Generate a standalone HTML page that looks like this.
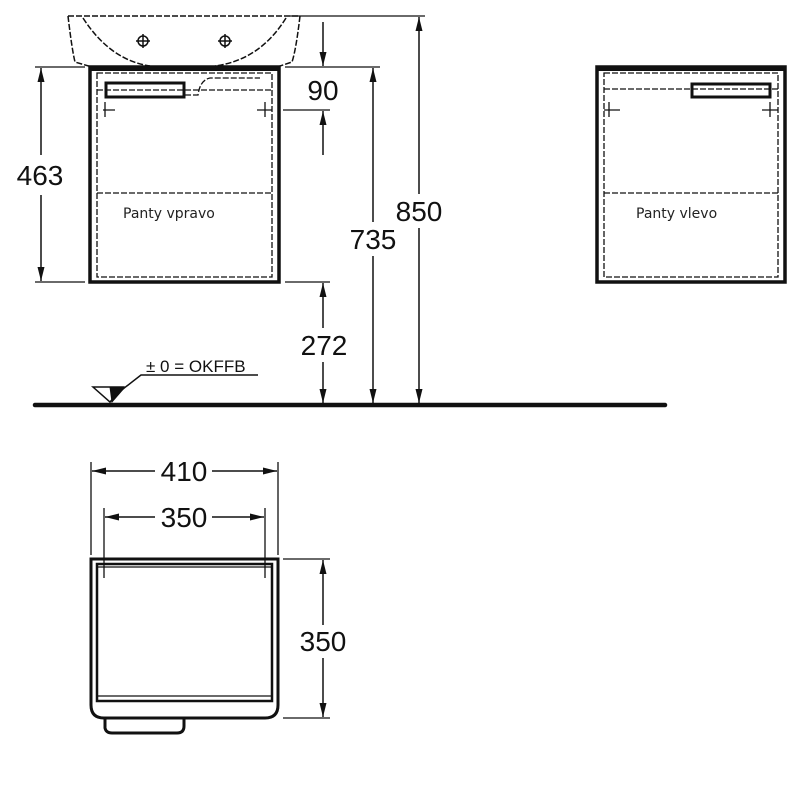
<!DOCTYPE html>
<html><head><meta charset="utf-8"><style>
html,body{margin:0;padding:0;background:#fff;}
svg{display:block;}
text{font-family:"Liberation Sans",sans-serif;fill:#111;}
.d{font-size:28px;}
.c{font-family:"DejaVu Sans","Liberation Sans",sans-serif;font-size:14px;fill:#222;}
</style></head><body>
<svg width="800" height="800" viewBox="0 0 800 800" xmlns="http://www.w3.org/2000/svg">
<defs>
<marker id="a" viewBox="0 0 14 7" refX="14" refY="3.5" markerWidth="14" markerHeight="7" orient="auto-start-reverse" markerUnits="userSpaceOnUse"><path d="M0,0 L14,3.5 L0,7 z" fill="#111"/></marker>
</defs>
<g stroke="#111" fill="none">
<path d="M68,16 L300,16 M68,16 Q72,50 75,62 L92,67 M300,16 Q296,50 292,62 L277,67" stroke-dasharray="6,2" stroke-width="1.5"/>
<path d="M83,18 Q110,60 150,66 M286,18 Q260,60 215,66" stroke-dasharray="6,2" stroke-width="1.5"/>
<circle cx="143" cy="41" r="5" stroke-width="1.5"/><line x1="143" y1="34" x2="143" y2="48" stroke-width="1.5"/><line x1="136" y1="41" x2="150" y2="41" stroke-width="1.5"/>
<circle cx="225" cy="41" r="5" stroke-width="1.5"/><line x1="225" y1="34" x2="225" y2="48" stroke-width="1.5"/><line x1="218" y1="41" x2="232" y2="41" stroke-width="1.5"/>
<rect x="90" y="67" width="189" height="215" stroke-width="3.5"/>
<line x1="90" y1="69" x2="279" y2="69" stroke-width="4"/>
<rect x="97" y="73" width="175" height="204" stroke-dasharray="6,2" stroke-width="1.3"/>
<line x1="97" y1="193" x2="272" y2="193" stroke-dasharray="6,2" stroke-width="1.3"/>
<line x1="97" y1="90" x2="272" y2="90" stroke-dasharray="6,2" stroke-width="1.3"/>
<rect x="106" y="83" width="78" height="14" stroke-width="3"/>
<path d="M185,95 L198,95 Q200,80 210,78 L260,78" stroke-dasharray="6,2" stroke-width="1.3"/>
<path d="M103,110 L115,110 M105,102 L105,117 M257,110 L272,110 M265,102 L265,117" stroke-width="1.3"/>
<rect x="597" y="67" width="188" height="215" stroke-width="3.5"/>
<line x1="597" y1="69" x2="785" y2="69" stroke-width="4"/>
<rect x="604" y="73" width="174" height="204" stroke-dasharray="6,2" stroke-width="1.3"/>
<line x1="604" y1="193" x2="778" y2="193" stroke-dasharray="6,2" stroke-width="1.3"/>
<line x1="604" y1="89" x2="778" y2="89" stroke-dasharray="6,2" stroke-width="1.3"/>
<rect x="692" y="84" width="78" height="13" stroke-width="3"/>
<path d="M604,110 L620,110 M609,102 L609,117 M762,110 L778,110 M770,102 L770,117" stroke-width="1.3"/>
<path d="M35,67 L85,67 M35,282 L85,282" stroke-width="1.3"/>
<line x1="41" y1="68" x2="41" y2="155" stroke-width="1.5" marker-start="url(#a)"/>
<line x1="41" y1="195" x2="41" y2="281" stroke-width="1.5" marker-end="url(#a)"/>
<path d="M290,16 L425,16 M285,67 L380,67 M283,110 L330,110 M285,282 L330,282" stroke-width="1.3"/>
<line x1="323" y1="22" x2="323" y2="66" stroke-width="1.5" marker-end="url(#a)"/>
<line x1="323" y1="155" x2="323" y2="111" stroke-width="1.5" marker-end="url(#a)"/>
<line x1="323" y1="283" x2="323" y2="328" stroke-width="1.5" marker-start="url(#a)"/>
<line x1="323" y1="362" x2="323" y2="403" stroke-width="1.5" marker-end="url(#a)"/>
<line x1="373" y1="68" x2="373" y2="222" stroke-width="1.5" marker-start="url(#a)"/>
<line x1="373" y1="256" x2="373" y2="403" stroke-width="1.5" marker-end="url(#a)"/>
<line x1="419" y1="17" x2="419" y2="194" stroke-width="1.5" marker-start="url(#a)"/>
<line x1="419" y1="228" x2="419" y2="403" stroke-width="1.5" marker-end="url(#a)"/>
<line x1="35" y1="405" x2="665" y2="405" stroke-width="4.5" stroke-linecap="round"/>
<path d="M93,387 L123,387 L110,402 Z" stroke-width="1.5"/>
<path d="M110,387 L125,387 L112,402 Z" fill="#111" stroke-width="1"/>
<path d="M114,396 L141,375 L258,375" stroke-width="1.5"/>
<path d="M91,462 L91,555 M278,462 L278,555 M104,508 L104,578 M265,508 L265,578" stroke-width="1.3"/>
<line x1="92" y1="471" x2="155" y2="471" stroke-width="1.5" marker-start="url(#a)"/>
<line x1="212" y1="471" x2="277" y2="471" stroke-width="1.5" marker-end="url(#a)"/>
<line x1="105" y1="517" x2="155" y2="517" stroke-width="1.5" marker-start="url(#a)"/>
<line x1="212" y1="517" x2="264" y2="517" stroke-width="1.5" marker-end="url(#a)"/>
<path d="M283,559 L330,559 M283,718 L330,718" stroke-width="1.3"/>
<line x1="323" y1="560" x2="323" y2="625" stroke-width="1.5" marker-start="url(#a)"/>
<line x1="323" y1="658" x2="323" y2="717" stroke-width="1.5" marker-end="url(#a)"/>
<path d="M91,559 L278,559 L278,705 Q278,718 265,718 L104,718 Q91,718 91,705 Z" stroke-width="3"/>
<rect x="97" y="564" width="175" height="137" stroke-width="2.5"/>
<line x1="97" y1="567" x2="272" y2="567" stroke-width="1.2"/>
<line x1="97" y1="696" x2="272" y2="696" stroke-width="1.2"/>
<path d="M105,719 L105,728 Q106,733 112,733 L177,733 Q184,733 184,726 L184,719" stroke-width="3"/>
</g>
<text class="d" x="40" y="185" text-anchor="middle">463</text>
<text class="d" x="323" y="100" text-anchor="middle">90</text>
<text class="d" x="373" y="249" text-anchor="middle">735</text>
<text class="d" x="419" y="221" text-anchor="middle">850</text>
<text class="d" x="324" y="355" text-anchor="middle">272</text>
<text class="d" x="184" y="481" text-anchor="middle">410</text>
<text class="d" x="184" y="527" text-anchor="middle">350</text>
<text class="d" x="323" y="651" text-anchor="middle">350</text>
<text x="146" y="372" style="font-size:17px">± 0 = OKFFB</text>
<text class="c" x="123" y="218">Panty vpravo</text>
<text class="c" x="636" y="218">Panty vlevo</text>
</svg>
</body></html>
